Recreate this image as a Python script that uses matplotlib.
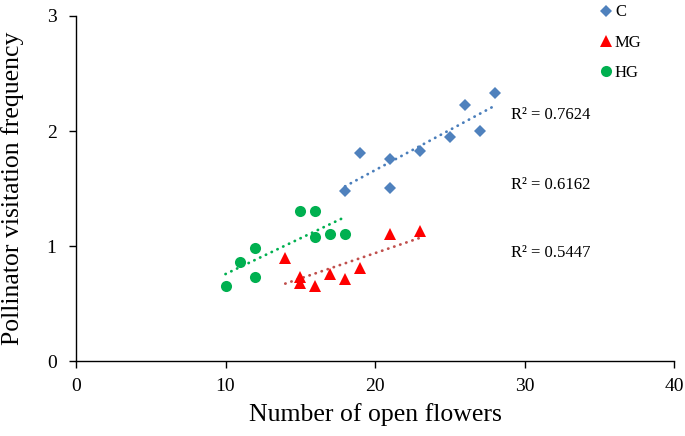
import numpy as np
import matplotlib
matplotlib.use("Agg")
import matplotlib.pyplot as plt

plt.rcParams['font.family'] = ['Liberation Serif', 'DejaVu Serif']

c_x = [18, 19, 21, 21, 23, 25, 26, 27, 28]
c_y = [1.48, 1.81, 1.76, 1.50, 1.83, 1.95, 2.23, 2.00, 2.33]
mg_x = [14, 15, 15, 16, 17, 18, 19, 21, 23]
mg_y = [0.90, 0.73, 0.68, 0.65, 0.76, 0.71, 0.81, 1.10, 1.13]
hg_x = [10, 11, 12, 12, 15, 16, 16, 17, 18]
hg_y = [0.65, 0.86, 0.98, 0.73, 1.30, 1.30, 1.08, 1.10, 1.10]
r2_labels = ["R² = 0.7624", "R² = 0.6162", "R² = 0.5447"]
r2_y = [2.14, 1.53, 0.94]

fig = plt.figure(figsize=(6.85, 4.36), dpi=100)
ax = fig.add_axes([76/685, 1 - 361/436, (674-76)/685, (361-16)/436])

series = [
    ("C", c_x, c_y, 'D', '#4F81BD', '#4A7EBB', 6.5),
    ("MG", mg_x, mg_y, '^', '#FF0000', '#C0504D', 8),
    ("HG", hg_x, hg_y, 'o', '#00B050', '#00B050', 8),
]
for name, xs, ys, mk, col, tcol, ms in series:
    xs = np.array(xs, float); ys = np.array(ys, float)
    ax.plot(xs, ys, linestyle='none', marker=mk, color=col, markersize=ms,
            markeredgewidth=0, label=name, zorder=3)
    k, b = np.polyfit(xs, ys, 1)
    xx = np.array([xs.min(), xs.max()])
    ax.plot(xx, k*xx + b, color=tcol, linewidth=2.0, linestyle=(0, (0.1, 2.2)),
            dash_capstyle='round', zorder=2)

for lab, yy in zip(r2_labels, r2_y):
    ax.text(29.1, yy, lab, fontsize=12, va='center', ha='left')

ax.set_xlim(0, 40)
ax.set_ylim(0, 3)
ax.set_xticks([0, 10, 20, 30, 40])
ax.set_yticks([0, 1, 2, 3])
for s in ['top', 'right']:
    ax.spines[s].set_visible(False)
for s in ['left', 'bottom']:
    ax.spines[s].set_color('black')
    ax.spines[s].set_linewidth(1.0)
ax.tick_params(axis='both', labelsize=14, length=5, width=1.0, direction='out')
ax.tick_params(axis='y', pad=9)
ax.tick_params(axis='x', pad=7)
ax.set_xlabel("Number of open flowers", fontsize=18.5, labelpad=6)
ax.set_ylabel("Pollinator visitation frequency", fontsize=18.5, labelpad=16)

leg = fig.legend(loc='upper left', bbox_to_anchor=(0.877, 0.99), frameon=False,
                 fontsize=12, handlelength=0.6, handletextpad=0.25,
                 labelspacing=0.85, borderpad=0, borderaxespad=0)

fig.savefig("out.png", dpi=100)
